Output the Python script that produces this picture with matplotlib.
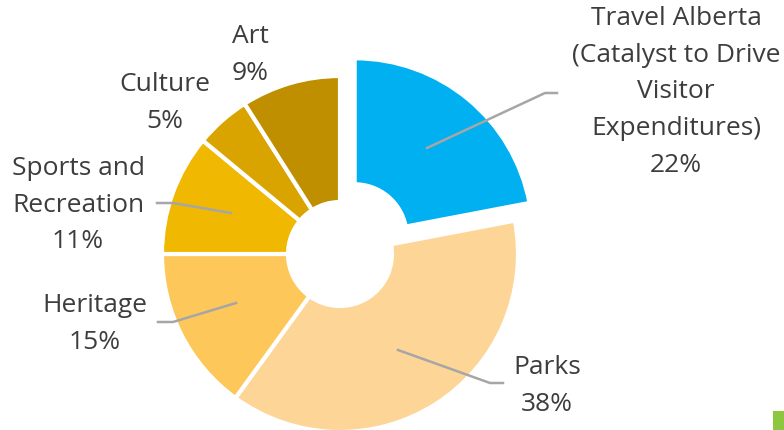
import matplotlib
matplotlib.use("Agg")
import matplotlib.pyplot as plt
from matplotlib.patches import Rectangle

# data
categories = ["Travel Alberta\n(Catalyst to Drive\nVisitor\nExpenditures)",
              "Parks", "Heritage", "Sports and\nRecreation", "Culture", "Art"]
shares = [22, 38, 15, 11, 5, 9]
colors = ["#00B0F0", "#FDD597", "#FDC75A", "#F0B800", "#D9A300", "#BF8F00"]
explode = [23, 0, 0, 0, 0, 0]  # pie offsets are in axis units (pixels here)

# label anchors (pixels, y from top) and leader lines
label_pos = [(676, 92), (547, 386), (95, 324), (78, 205), (165, 103), (250, 55)]
leaders = [
    [(427, 149), (545, 94), (557, 94)],
    [(398, 351), (490, 384), (503, 384)],
    [(236, 304), (173, 323), (158, 323)],
    [(231, 214), (173, 204), (157, 204)],
    None,
    None,
]

W, H = 784, 431
TEXT = "#3D3D3D"

fig = plt.figure(figsize=(W / 100, H / 100), dpi=100)
ax = fig.add_axes([0, 0, 1, 1])

ax.pie(shares, colors=colors, explode=explode, startangle=90, counterclock=False,
       center=(340, H - 255), radius=178, frame=True,
       wedgeprops=dict(width=126, edgecolor="white", linewidth=3))
ax.set_xlim(0, W)
ax.set_ylim(0, H)
ax.set_aspect("equal")
ax.axis("off")

for name, pct, (x, y), pts in zip(categories, shares, label_pos, leaders):
    if pts:
        ax.plot([p[0] for p in pts], [H - p[1] for p in pts], color="#A6A6A6", lw=1.8)
    ax.text(x, H - y, f"{name}\n{pct}%", ha="center", va="center", fontsize=19,
            family="Open Sans", color=TEXT, linespacing=1.63)

# corner decoration of the slide
ax.add_patch(Rectangle((773, 0), 11, 19, color="#8DC63F", lw=0))

fig.savefig("out.png", dpi=100)
